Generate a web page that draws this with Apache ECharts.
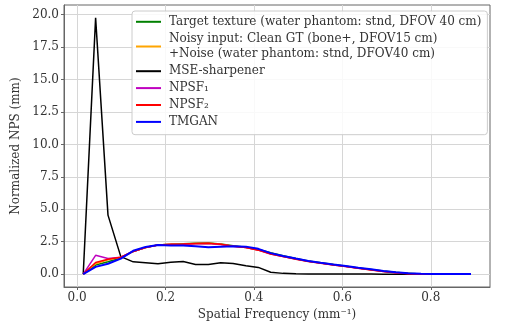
<!DOCTYPE html>
<html><head><meta charset="utf-8">
<script src="https://cdn.jsdelivr.net/npm/echarts@6/dist/echarts.min.js"></script>
<style>html,body{margin:0;padding:0;background:#fff}#c{width:506px;height:327px}</style>
</head><body><div id="c"></div>
<script>
const freqs = [0.014,0.042,0.070,0.099,0.127,0.155,0.183,0.212,0.240,0.268,0.297,0.325,0.353,0.382,0.410,0.438,0.466,0.495,0.523,0.551,0.580,0.608,0.636,0.665,0.693,0.721,0.749,0.778,0.806,0.834,0.863,0.891];
const target = [0,0.70,0.95,1.25,1.75,2.05,2.25,2.30,2.35,2.38,2.40,2.32,2.18,2.08,1.90,1.65,1.42,1.20,1.02,0.87,0.74,0.61,0.48,0.36,0.24,0.14,0.06,0.02,0.01,0,0,0];
const noisy = [0,0.80,1.10,1.30,1.75,2.05,2.25,2.30,2.33,2.37,2.38,2.30,2.16,2.05,1.86,1.58,1.37,1.17,1.00,0.85,0.72,0.60,0.47,0.34,0.22,0.12,0.05,0.02,0.01,0,0,0];
const mse = [0,19.75,4.55,1.35,0.95,0.88,0.80,0.92,0.97,0.75,0.75,0.88,0.82,0.65,0.52,0.15,0.06,0.03,0.02,0.02,0.01,0.01,0.01,0.01,0,0,0,0,0,0,0,0];
const npsf1 = [0,1.45,1.20,1.30,1.75,2.05,2.25,2.28,2.30,2.34,2.36,2.28,2.15,2.05,1.86,1.55,1.36,1.16,0.99,0.85,0.71,0.59,0.46,0.33,0.21,0.11,0.05,0.02,0.01,0,0,0];
const npsf2 = [0,0.90,1.15,1.30,1.75,2.05,2.25,2.30,2.32,2.36,2.38,2.30,2.15,2.05,1.85,1.55,1.35,1.15,0.98,0.84,0.70,0.58,0.45,0.32,0.20,0.10,0.04,0.01,0.01,0,0,0];
const tmgan = [0,0.56,0.80,1.20,1.80,2.10,2.25,2.20,2.20,2.15,2.08,2.12,2.15,2.12,1.95,1.62,1.40,1.20,1.02,0.88,0.75,0.63,0.50,0.38,0.25,0.15,0.07,0.03,0.01,0.01,0.01,0.01];
const xTicks = [0.0,0.2,0.4,0.6,0.8];
const yTicks = [0.0,2.5,5.0,7.5,10.0,12.5,15.0,17.5,20.0];
const names = ['Target texture (water phantom: stnd, DFOV 40 cm)',
  'Noisy input: Clean GT (bone+, DFOV15 cm)\n+Noise (water phantom: stnd, DFOV40 cm)',
  'MSE-sharpener','NPSF\u2081','NPSF\u2082','TMGAN'];
const colors = ['#008000','#ffa500','#000000','#bf00bf','#ff0000','#0000ff'];
const sets = [target,noisy,mse,npsf1,npsf2,tmgan];
const widths = [1.5,1.5,1.5,1.5,1.5,2];
const FONT = 'DejaVu Serif';
const FS = 12;
const chart = echarts.init(document.getElementById('c'), null, {renderer:'canvas'});
chart.setOption({
  animation:false,
  backgroundColor:'#fff',
  textStyle:{fontFamily:FONT},
  grid:{left:64,right:16,top:5,bottom:40,show:true,borderColor:'#666',borderWidth:1,backgroundColor:'transparent'},
  xAxis:{type:'value',min:-0.0295,max:0.934,
    name:'Spatial Frequency (mm\u207B\u00B9)',nameLocation:'middle',nameGap:21,
    nameTextStyle:{fontFamily:FONT,fontSize:FS,color:'#333'},
    axisLine:{show:true,onZero:false,lineStyle:{color:'#666'}},
    axisTick:{show:true,length:3,lineStyle:{color:'#666'},customValues:xTicks},
    axisLabel:{fontFamily:FONT,fontSize:FS,color:'#333',margin:5,customValues:xTicks,formatter:v=>v.toFixed(1)},
    splitLine:{show:true,lineStyle:{color:'#d6d6d6',width:1}}},
  yAxis:{type:'value',min:-0.99,max:20.74,
    name:'Normalized NPS (mm)',nameLocation:'middle',nameGap:35,
    nameTextStyle:{fontFamily:FONT,fontSize:FS,color:'#333'},
    axisLine:{show:true,onZero:false,lineStyle:{color:'#666'}},
    axisTick:{show:true,length:3,lineStyle:{color:'#666'},customValues:yTicks},
    axisLabel:{fontFamily:FONT,fontSize:FS,color:'#333',margin:5,customValues:yTicks,formatter:v=>v.toFixed(1)},
    splitLine:{show:true,lineStyle:{color:'#d6d6d6',width:1}}},
  legend:{orient:'vertical',left:132,top:11,padding:[3,6,5,4],itemGap:1.3,
    icon:'rect',itemWidth:25,itemHeight:2,
    backgroundColor:'rgba(255,255,255,0.85)',borderColor:'#ccc',borderWidth:1,borderRadius:3,
    textStyle:{fontFamily:FONT,fontSize:FS,color:'#333',lineHeight:15.6,padding:[0,0,0,3]},
    data:names},
  series:sets.map((d,i)=>({
    type:'line',name:names[i],showSymbol:false,symbol:'none',z:2+i,
    data:freqs.map((f,j)=>[f,d[j]]),
    lineStyle:{color:colors[i],width:widths[i]},itemStyle:{color:colors[i]}
  }))
});
</script></body></html>
